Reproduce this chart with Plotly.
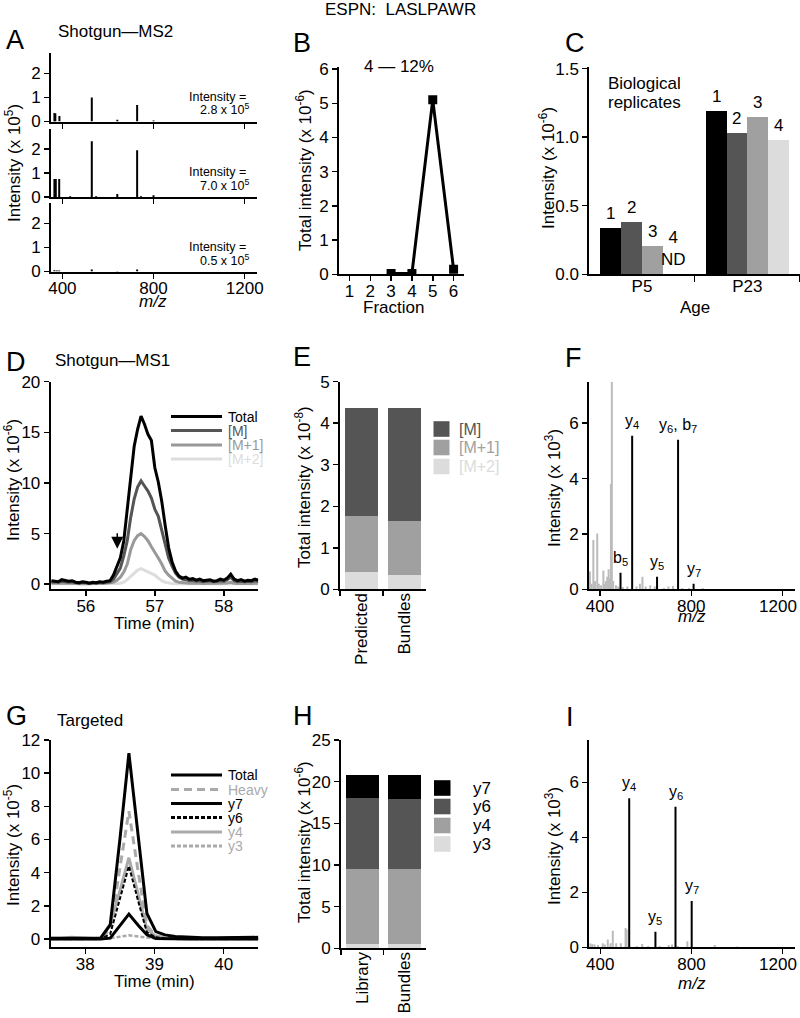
import plotly.graph_objects as go

# ---------------- DATA ----------------
# A: shotgun MS2 spectra (m/z, intensity x 1e5)
a1_mz = [365, 369, 387, 529, 641, 728, 800]
a1_int = [0.35, 0.33, 0.23, 1.0, 0.07, 0.69, 0.04]
a2_mz = [365, 371, 386, 434, 529, 548, 641, 728, 745, 800]
a2_int = [0.75, 0.75, 0.75, 0.03, 2.32, 0.03, 0.12, 1.94, 0.03, 0.07]
a3_mz = [365, 376, 386, 529, 641, 728]
a3_int = [0.05, 0.04, 0.04, 0.08, 0.02, 0.08]
a_totals = ["2.8 x 10<sup>5</sup>", "7.0 x 10<sup>5</sup>", "0.5 x 10<sup>5</sup>"]
mz_ticks = [400, 800, 1200]
mz_ticktext = ["400", "800", "1200\u00a0\u00a0"]

# B: fractionation profile
b_fraction = [3, 4, 5, 6]
b_intensity = [0.02, 0.02, 5.1, 0.15]
b_ticks = [1, 2, 3, 4, 5, 6]

# C: biological replicates
c_ages = ["P5", "P23"]
c_reps = ["1", "2", "3", "4"]
c_rep1 = [0.34, 1.19]
c_rep2 = [0.38, 1.03]
c_rep3 = [0.21, 1.15]
c_rep4 = [0.0, 0.98]
c_rep_labels_p5 = ["1", "2", "3", "4<br>ND"]

# D: shotgun MS1 chromatograms (x 1e6)
d_time = [55.50, 55.55, 55.60, 55.65, 55.70, 55.75, 55.80, 55.85, 55.90, 55.95,
          56.00, 56.05, 56.10, 56.15, 56.20, 56.25, 56.30, 56.35, 56.40, 56.45,
          56.50, 56.55, 56.60, 56.65, 56.70, 56.75, 56.80, 56.85, 56.90, 56.95,
          57.00, 57.05, 57.10, 57.15, 57.20, 57.25, 57.30, 57.35, 57.40, 57.45,
          57.50, 57.55, 57.60, 57.65, 57.70, 57.75, 57.80, 57.85, 57.90, 57.95,
          58.00, 58.05, 58.10, 58.15, 58.20, 58.25, 58.30, 58.35, 58.40, 58.45, 58.50]
d_total = [0.35, 0.30, 0.25, 0.45, 0.40, 0.30, 0.35, 0.20, 0.15, 0.25,
           0.20, 0.10, 0.20, 0.15, 0.25, 0.20, 0.30, 0.35, 0.90, 1.80,
           2.60, 4.30, 7.20, 10.4, 13.6, 15.3, 16.6, 15.8, 14.8, 14.2,
           11.5, 10.1, 8.2, 5.8, 3.6, 2.2, 1.3, 0.8, 0.6, 0.7,
           0.5, 0.55, 0.4, 0.5, 0.35, 0.4, 0.45, 0.3, 0.35, 0.5,
           0.4, 0.6, 1.0, 0.5, 0.35, 0.45, 0.3, 0.4, 0.35, 0.5, 0.4]
d_m = [0.20, 0.25, 0.20, 0.30, 0.25, 0.20, 0.25, 0.15, 0.10, 0.20,
       0.15, 0.10, 0.15, 0.10, 0.20, 0.15, 0.20, 0.25, 0.5, 1.0,
       1.6, 2.8, 4.3, 6.6, 8.4, 9.6, 10.2, 9.7, 9.2, 8.5,
       7.4, 6.7, 5.4, 3.9, 2.6, 1.8, 1.1, 0.7, 0.5, 0.45,
       0.35, 0.4, 0.3, 0.35, 0.25, 0.3, 0.35, 0.25, 0.3, 0.35,
       0.3, 0.45, 0.7, 0.35, 0.25, 0.3, 0.25, 0.3, 0.25, 0.35, 0.3]
d_m1 = [0.10, 0.12, 0.10, 0.15, 0.12, 0.10, 0.12, 0.08, 0.05, 0.10,
        0.08, 0.05, 0.08, 0.05, 0.10, 0.08, 0.10, 0.12, 0.2, 0.4,
        0.7, 1.2, 2.0, 3.4, 4.3, 4.8, 5.0, 4.7, 4.3, 3.7,
        3.2, 2.6, 2.0, 1.3, 0.9, 0.55, 0.3, 0.2, 0.15, 0.12,
        0.1, 0.12, 0.08, 0.1, 0.08, 0.1, 0.12, 0.08, 0.1, 0.1,
        0.08, 0.12, 0.2, 0.1, 0.08, 0.1, 0.08, 0.1, 0.08, 0.1, 0.1]
d_m2 = [0.05, 0.05, 0.04, 0.06, 0.05, 0.04, 0.05, 0.03, 0.02, 0.04,
        0.03, 0.02, 0.03, 0.02, 0.04, 0.03, 0.04, 0.04, 0.05, 0.07,
        0.1, 0.2, 0.45, 0.8, 1.1, 1.4, 1.55, 1.4, 1.25, 1.1,
        0.9, 0.6, 0.35, 0.2, 0.12, 0.08, 0.06, 0.05, 0.05, 0.04,
        0.05, 0.04, 0.03, 0.04, 0.03, 0.04, 0.05, 0.03, 0.04, 0.04,
        0.03, 0.05, 0.06, 0.04, 0.03, 0.04, 0.03, 0.04, 0.03, 0.04, 0.04]
d_names = ["Total", "[M]", "[M+1]", "[M+2]"]

# E: isotope distribution (x 1e8)
e_cats = ["Predicted", "Bundles"]
e_m2 = [0.42, 0.34]
e_m1 = [1.35, 1.31]
e_m = [2.60, 2.72]

# F: shotgun MS2 spectrum (x 1e3)
f_ion_mz = [490, 541, 650, 742, 810]
f_ion_int = [0.6, 5.55, 0.45, 5.4, 0.2]
f_ion_lab = ["b<sub>5</sub>", "y<sub>4</sub>", "y<sub>5</sub>", "y<sub>6</sub>, b<sub>7</sub>", "y<sub>7</sub>"]
f_bg_mz = [356, 363, 371, 378, 388, 395, 405, 415, 422, 426, 432, 438, 444, 448, 452, 458,
           470, 480, 500, 520, 560, 575, 586, 600, 620, 640, 680, 700, 720, 760, 790, 850]
f_bg_int = [0.64, 0.2, 1.78, 0.3, 2.02, 0.2, 0.15, 0.68, 0.2, 0.3, 0.45, 0.72, 0.4, 3.8, 7.5, 0.3,
            0.15, 0.1, 0.08, 0.1, 0.1, 0.2, 0.45, 0.1, 0.15, 0.1, 0.05, 0.1, 0.12, 0.05, 0.05, 0.05]

# G: targeted chromatograms (x 1e5)
g_time = [37.50, 37.65, 37.80, 37.95, 38.10, 38.22, 38.36, 38.50, 38.63, 38.77,
          38.89, 39.02, 39.15, 39.30, 39.50, 39.70, 39.90, 40.10, 40.30, 40.50]
g_total = [0.05, 0.05, 0.08, 0.05, 0.05, 0.05, 0.85, 6.0, 11.2, 6.1, 1.55, 0.45, 0.25, 0.15, 0.1, 0.08, 0.08, 0.1, 0.12, 0.1]
g_heavy = [0.02, 0.02, 0.03, 0.02, 0.02, 0.02, 0.6, 4.2, 7.7, 3.9, 0.8, 0.2, 0.1, 0.05, 0.03, 0.02, 0.02, 0.02, 0.02, 0.02]
g_y7 = [0, 0, 0, 0, 0, 0, 0.05, 0.8, 1.5, 0.8, 0.25, 0.03, 0.01, 0, 0, 0, 0, 0, 0, 0]
g_y6 = [0, 0, 0, 0, 0, 0, 0.3, 2.4, 4.4, 2.2, 0.4, 0.1, 0.03, 0.01, 0, 0, 0, 0, 0, 0]
g_y4 = [0.05, 0.05, 0.1, 0.05, 0.03, 0.03, 0.9, 2.9, 4.9, 2.6, 0.6, 0.15, 0.06, 0.04, 0.03, 0.03, 0.03, 0.08, 0.05, 0.04]
g_y3 = [0, 0, 0, 0, 0, 0, 0.05, 0.15, 0.22, 0.15, 0.08, 0.03, 0.01, 0, 0, 0, 0, 0, 0, 0]
g_names = ["Total", "Heavy", "y7", "y6", "y4", "y3"]

# H: transitions (x 1e6)
h_cats = ["Library", "Bundles"]
h_y3 = [0.5, 0.5]
h_y4 = [9.0, 9.0]
h_y6 = [8.5, 8.4]
h_y7 = [2.8, 2.9]

# I: targeted MS2 spectrum (x 1e3)
i_ion_mz = [527, 642, 730, 801]
i_ion_int = [5.42, 0.57, 5.11, 1.68]
i_ion_lab = ["y<sub>4</sub>", "y<sub>5</sub>", "y<sub>6</sub>", "y<sub>7</sub>"]
i_bg_mz = [356, 365, 375, 390, 411, 420, 433, 445, 455, 470, 490, 511, 516, 560, 584, 610,
           660, 700, 715, 740, 782, 902, 1000]
i_bg_int = [0.15, 0.12, 0.1, 0.08, 0.15, 0.1, 0.28, 0.15, 0.6, 0.15, 0.15, 0.7, 0.65, 0.05, 0.12, 0.05,
            0.05, 0.08, 0.1, 0.05, 0.22, 0.08, 0.03]

# ---------------- STYLE / LAYOUT HELPERS ----------------
W, H = 800, 1018
FONT = "Liberation Sans, Arial, Helvetica, sans-serif"
BLACK, DARK, MID, LIGHT = "#000000", "#555555", "#a0a0a0", "#dcdcdc"
GREY_LINE = "#aaaaaa"
TICK = 17


def PX(x):
    return x / W


def PY(y):
    return 1 - y / H


fig = go.Figure()
axes = {}


def add_axes(n, xdom, ydom, xr, yr, xkw=None, ykw=None):
    s = "" if n == 1 else str(n)
    base = dict(showline=True, linecolor="black", linewidth=2, ticks="outside", ticklen=5,
                tickwidth=1.5, tickcolor="black", showgrid=False, zeroline=False,
                tickfont=dict(size=TICK, color="black", family=FONT), fixedrange=True,
                automargin=False, ticklabeloverflow="allow")
    xa = dict(base, domain=[PX(xdom[0]), PX(xdom[1])], anchor="y" + s, range=xr, ticklabelstandoff=-5)
    ya = dict(base, domain=[PY(ydom[1]), PY(ydom[0])], anchor="x" + s, range=yr)
    if xkw:
        xa.update(xkw)
    if ykw:
        ya.update(ykw)
    axes["xaxis" + s] = xa
    axes["yaxis" + s] = ya
    return "x" + s, "y" + s


def sticks(mz, inten):
    xs, ys = [], []
    for m, v in zip(mz, inten):
        xs += [m, m, None]
        ys += [0, v, None]
    return xs, ys


ann = []


def txt(x, y, s, size=17, color="black", xa="center", ya="middle", angle=0, italic=False):
    ann.append(dict(x=PX(x), y=PY(y), xref="paper", yref="paper", text=s, showarrow=False,
                    xanchor=xa, yanchor=ya, textangle=angle, borderpad=0,
                    font=dict(size=size, color=color, family=FONT,
                              style="italic" if italic else "normal")))


shapes = []

# ---------------- PANEL A ----------------
a_doms = [(53, 121.5), (128.5, 197), (203, 271.5)]
a_data = [(a1_mz, a1_int), (a2_mz, a2_int), (a3_mz, a3_int)]
for k in range(3):
    xr_, yr_ = add_axes(k + 1, (51, 257), a_doms[k], [350, 1254], [0, 2.85],
                        xkw=dict(tickvals=mz_ticks, ticktext=mz_ticks, showticklabels=(k == 2)),
                        ykw=dict(tickvals=[0, 1, 2]))
    xs, ys = sticks(*a_data[k])
    fig.add_trace(go.Scatter(x=xs, y=ys, mode="lines", line=dict(color=BLACK, width=2),
                             xaxis=xr_, yaxis=yr_, showlegend=False, hoverinfo="skip"))
    bottom = a_doms[k][1]
    txt(247, bottom - 24.5, "Intensity =", size=12.5, xa="right")
    txt(250, bottom - 12, a_totals[k], size=12.5, xa="right")

# ---------------- PANEL B ----------------
xb, yb = add_axes(4, (339, 464), (66.7, 274.3), [0.5, 6.5], [0, 6.07],
                  xkw=dict(tickvals=b_ticks), ykw=dict(tickvals=[0, 1, 2, 3, 4, 5, 6]))
fig.add_trace(go.Scatter(x=b_fraction, y=b_intensity, mode="lines+markers",
                         line=dict(color=BLACK, width=3),
                         marker=dict(symbol="square", size=9, color=BLACK),
                         xaxis=xb, yaxis=yb, showlegend=False, hoverinfo="skip"))

# ---------------- PANEL C ----------------
xc, yc = add_axes(5, (589.3, 800), (66.7, 274.3), [-0.5, 1.5], [0, 1.514],
                  xkw=dict(tickvals=[0, 1], ticktext=c_ages, ticks="",
                           minor=dict(tickvals=[0.5, 1.5], ticks="outside", ticklen=6,
                                      tickwidth=1.5, tickcolor="black")),
                  ykw=dict(tickvals=[0, 0.5, 1.0, 1.5], tickformat=".1f"))
c_width = 0.1975
c_colors = [BLACK, DARK, MID, LIGHT]
c_vals = [c_rep1, c_rep2, c_rep3, c_rep4]
for i in range(4):
    off = (i - 1.5) * c_width
    xpos = [g + off for g in range(len(c_ages))]
    fig.add_trace(go.Bar(x=xpos, y=c_vals[i], width=c_width, marker=dict(color=c_colors[i], line=dict(width=0)),
                         xaxis=xc, yaxis=yc, showlegend=False, hoverinfo="skip"))
    labels = [c_rep_labels_p5[i], c_reps[i]]
    for g in range(len(c_ages)):
        ann.append(dict(x=xpos[g], y=c_vals[i][g], xref=xc, yref=yc, text=labels[g], showarrow=False,
                        xanchor="center", yanchor="bottom", yshift=3,
                        font=dict(size=17, color="black", family=FONT)))

# ---------------- PANEL D ----------------
xd, yd = add_axes(6, (50.7, 258.3), (381.7, 589.3), [55.49, 58.5], [-0.5, 20],
                  xkw=dict(tickvals=[56, 57, 58]), ykw=dict(tickvals=[0, 5, 10, 15, 20]))
d_series = [(d_m2, "#dddddd"), (d_m1, "#999999"), (d_m, DARK), (d_total, BLACK)]
for vals, col in d_series:
    fig.add_trace(go.Scatter(x=d_time, y=vals, mode="lines", line=dict(color=col, width=3),
                             xaxis=xd, yaxis=yd, showlegend=False, hoverinfo="skip"))
ann.append(dict(x=56.455, y=3.5, xref=xd, yref=yd, ax=0, ay=-17, axref="pixel", ayref="pixel",
                text="", showarrow=True, arrowhead=2, arrowsize=1.6, arrowwidth=1.5, arrowcolor="black"))
d_leg_colors = [BLACK, DARK, "#999999", "#dddddd"]
d_leg_y = [416.5, 430.5, 445, 459]
for name, col, yy in zip(d_names, d_leg_colors, d_leg_y):
    shapes.append(dict(type="line", xref="paper", yref="paper", x0=PX(171), x1=PX(222), y0=PY(yy), y1=PY(yy),
                       line=dict(color=col, width=3)))
    txt(226.5, yy, name, size=14, color=col, xa="left")

# ---------------- PANEL E ----------------
xe, ye = add_axes(7, (340, 425.7), (381.7, 589.3), [-0.5, 1.5], [0, 5],
                  xkw=dict(type="category", tickson="boundaries", tickangle=-90),
                  ykw=dict(tickvals=[0, 1, 2, 3, 4, 5]))
for vals, col in [(e_m2, LIGHT), (e_m1, MID), (e_m, DARK)]:
    fig.add_trace(go.Bar(x=e_cats, y=vals, width=0.78, marker=dict(color=col, line=dict(width=0)),
                         xaxis=xe, yaxis=ye, showlegend=False, hoverinfo="skip"))
e_leg = [("[M]", DARK, 429), ("[M+1]", MID, 447.5), ("[M+2]", LIGHT, 466.5)]
for name, col, yy in e_leg:
    shapes.append(dict(type="rect", xref="paper", yref="paper", x0=PX(433.5), x1=PX(449.5),
                       y0=PY(yy + 7.8), y1=PY(yy - 7.8), fillcolor=col, line=dict(width=0)))
    txt(458, yy, name, size=16, color=col, xa="left")

# ---------------- PANEL F ----------------
xf, yf = add_axes(8, (589, 795), (381.7, 589.3), [352, 1254], [0, 7.5],
                  xkw=dict(tickvals=mz_ticks, ticktext=mz_ticktext), ykw=dict(tickvals=[0, 2, 4, 6]))
xs, ys = sticks(f_bg_mz, f_bg_int)
fig.add_trace(go.Scatter(x=xs, y=ys, mode="lines", line=dict(color="#bbbbbb", width=2),
                         xaxis=xf, yaxis=yf, showlegend=False, hoverinfo="skip"))
xs, ys = sticks(f_ion_mz, f_ion_int)
fig.add_trace(go.Scatter(x=xs, y=ys, mode="lines", line=dict(color=BLACK, width=2),
                         xaxis=xf, yaxis=yf, showlegend=False, hoverinfo="skip"))
for m, v, lab in zip(f_ion_mz, f_ion_int, f_ion_lab):
    ann.append(dict(x=m, y=v, xref=xf, yref=yf, text=lab, showarrow=False, xanchor="center",
                    yanchor="bottom", yshift=3, font=dict(size=16, color="black", family=FONT)))

# ---------------- PANEL G ----------------
xg, yg = add_axes(9, (50.7, 258.3), (740, 947.3), [37.5, 40.5], [-0.5, 12],
                  xkw=dict(tickvals=[38, 39, 40]), ykw=dict(tickvals=[0, 2, 4, 6, 8, 10, 12]))
DASH_FINE = "4px,2px"
DASH_LONG = "8px,5px"
g_styles = [
    (g_y3, GREY_LINE, 2.5, DASH_FINE),
    (g_y4, GREY_LINE, 3, "solid"),
    (g_heavy, GREY_LINE, 3, DASH_LONG),
    (g_y6, BLACK, 2, DASH_FINE),
    (g_y7, BLACK, 3, "solid"),
    (g_total, BLACK, 3, "solid"),
]
for vals, col, w, dash in g_styles:
    fig.add_trace(go.Scatter(x=g_time, y=vals, mode="lines", line=dict(color=col, width=w, dash=dash),
                             xaxis=xg, yaxis=yg, showlegend=False, hoverinfo="skip"))
g_leg = [("Total", BLACK, 3, "solid", BLACK), ("Heavy", GREY_LINE, 3, DASH_LONG, GREY_LINE),
         ("y7", BLACK, 3, "solid", BLACK), ("y6", BLACK, 3, DASH_FINE, BLACK),
         ("y4", GREY_LINE, 3, "solid", GREY_LINE), ("y3", GREY_LINE, 3, DASH_FINE, GREY_LINE)]
g_leg_y = [775, 789.5, 803.5, 817.5, 832, 846]
for (name, col, w, dash, tcol), yy in zip(g_leg, g_leg_y):
    shapes.append(dict(type="line", xref="paper", yref="paper", x0=PX(171), x1=PX(222), y0=PY(yy), y1=PY(yy),
                       line=dict(color=col, width=w, dash=dash)))
    txt(226.5, yy, name, size=14, color=tcol, xa="left")

# ---------------- PANEL H ----------------
xh, yh = add_axes(10, (341, 425.7), (740, 948.3), [-0.5, 1.5], [0, 25],
                  xkw=dict(type="category", tickson="boundaries", tickangle=-90),
                  ykw=dict(tickvals=[0, 5, 10, 15, 20, 25]))
for vals, col in [(h_y3, LIGHT), (h_y4, MID), (h_y6, DARK), (h_y7, BLACK)]:
    fig.add_trace(go.Bar(x=h_cats, y=vals, width=0.78, marker=dict(color=col, line=dict(width=0)),
                         xaxis=xh, yaxis=yh, showlegend=False, hoverinfo="skip"))
h_leg = [("y7", BLACK, 788), ("y6", DARK, 806.5), ("y4", MID, 825.5), ("y3", LIGHT, 844)]
for name, col, yy in h_leg:
    shapes.append(dict(type="rect", xref="paper", yref="paper", x0=PX(434), x1=PX(450.5),
                       y0=PY(yy + 7.8), y1=PY(yy - 7.8), fillcolor=col, line=dict(width=0)))
    txt(471.5, yy, name, size=17, color="black", xa="left")

# ---------------- PANEL I ----------------
xi, yi = add_axes(11, (589.3, 795), (740, 947.3), [352, 1254], [0, 7.54],
                  xkw=dict(tickvals=mz_ticks, ticktext=mz_ticktext), ykw=dict(tickvals=[0, 2, 4, 6]))
xs, ys = sticks(i_bg_mz, i_bg_int)
fig.add_trace(go.Scatter(x=xs, y=ys, mode="lines", line=dict(color="#bbbbbb", width=2),
                         xaxis=xi, yaxis=yi, showlegend=False, hoverinfo="skip"))
xs, ys = sticks(i_ion_mz, i_ion_int)
fig.add_trace(go.Scatter(x=xs, y=ys, mode="lines", line=dict(color=BLACK, width=2),
                         xaxis=xi, yaxis=yi, showlegend=False, hoverinfo="skip"))
for m, v, lab in zip(i_ion_mz, i_ion_int, i_ion_lab):
    ann.append(dict(x=m, y=v, xref=xi, yref=yi, text=lab, showarrow=False, xanchor="center",
                    yanchor="bottom", yshift=3, font=dict(size=16, color="black", family=FONT)))

# ---------------- TEXT: titles, letters, axis titles ----------------
txt(400, 10, "ESPN:  LASLPAWR", size=17)
for s, x, y in [("A", 15, 40), ("B", 302, 43), ("C", 575, 43), ("D", 16, 362), ("E", 302, 357),
                ("F", 573, 358), ("G", 16, 716), ("H", 303, 716), ("I", 570, 717)]:
    txt(x, y, s, size=27)
txt(116, 32, "Shotgun—MS2", size=17)
txt(399, 67, "4 — 12%", size=17)
txt(607, 83, "Biological", size=17, xa="left")
txt(607, 103, "replicates", size=17, xa="left")
txt(112, 360, "Shotgun—MS1", size=17)
txt(90, 720, "Targeted", size=17)

# y titles
for s, x, y in [("Intensity (x 10<sup>5</sup>)", 13, 163),
                ("Total intensity (x 10<sup>-6</sup>)", 304, 170),
                ("Intensity (x 10<sup>-6</sup>)", 547, 168),
                ("Intensity (x 10<sup>-6</sup>)", 12, 480),
                ("Total intensity (x 10<sup>-8</sup>)", 303, 487),
                ("Intensity (x 10<sup>3</sup>)", 553, 488),
                ("Intensity (x 10<sup>-5</sup>)", 12, 845),
                ("Total intensity (x 10<sup>-6</sup>)", 303, 842),
                ("Intensity (x 10<sup>3</sup>)", 553, 846)]:
    txt(x, y, s, size=17, angle=-90)

# x titles
txt(153, 302, "m/z", size=17, italic=True)
txt(393, 307, "Fraction", size=17)
txt(695, 307, "Age", size=17)
txt(154, 623, "Time (min)", size=17)
txt(692, 616, "m/z", size=17, italic=True)
txt(154, 981, "Time (min)", size=17)
txt(692, 983, "m/z", size=17, italic=True)

fig.update_layout(**axes)
fig.update_layout(width=W, height=H, autosize=False, margin=dict(l=0, r=0, t=0, b=0, pad=0),
                  paper_bgcolor="white", plot_bgcolor="white", barmode="stack", bargap=0,
                  showlegend=False, font=dict(family=FONT, color="black", size=17),
                  annotations=ann, shapes=shapes, hovermode=False)

fig.write_html("out.html", config={"displayModeBar": False, "staticPlot": True},
               post_script="document.body.style.margin='0';document.body.style.padding='0';"
                           "document.body.style.overflow='hidden';")
